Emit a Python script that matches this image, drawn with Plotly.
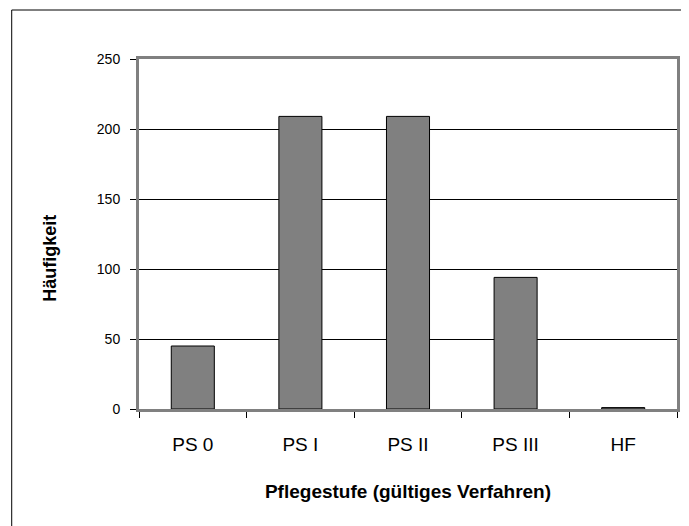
import plotly.graph_objects as go

categories = ["PS 0", "PS I", "PS II", "PS III", "HF"]
counts = [45, 209, 209, 94, 1]
y_ticks = [0, 50, 100, 150, 200, 250]

fig = go.Figure(
    data=[
        go.Bar(
            x=categories,
            y=counts,
            marker=dict(color="#808080", line=dict(color="#000000", width=1)),
            showlegend=False,
        )
    ],
    layout=go.Layout(
        # page body has an 8px margin, so the figure is shrunk to fit
        width=681,
        height=518,
        margin=dict(l=131, r=9, t=51, b=117),
        paper_bgcolor="white",
        plot_bgcolor="white",
        bargap=0.6,
        font=dict(family="Liberation Sans, Arial, sans-serif", color="#000000"),
    ),
)

fig.update_xaxes(
    tickson="boundaries",
    ticks="outside",
    ticklen=6,
    tickcolor="#000000",
    tickfont=dict(size=19),
    ticklabelstandoff=16,
    showline=True,
    linecolor="#808080",
    linewidth=3,
    mirror=True,
    showgrid=False,
    title=dict(text="<b>Pflegestufe (gültiges Verfahren)</b>", font=dict(size=19), standoff=31),
)
fig.update_yaxes(
    range=[0, 250],
    tickvals=y_ticks,
    ticks="outside",
    ticklen=6,
    tickcolor="#000000",
    tickfont=dict(size=14),
    ticklabelstandoff=7,
    showline=True,
    linecolor="#808080",
    linewidth=3,
    mirror=True,
    showgrid=True,
    gridcolor="#000000",
    gridwidth=1,
    zeroline=False,
)

# y title sits a bit below the plot centre in the original
fig.add_annotation(
    text="<b>Häufigkeit</b>", textangle=-90, showarrow=False,
    xref="paper", yref="paper", x=-0.166, y=0.431,
    xanchor="center", yanchor="middle", font=dict(size=18),
)

# outer chart frame (only left and top edges fall inside the picture)
fig.add_shape(
    type="rect", xref="paper", yref="paper",
    x0=-0.2366, x1=1.3, y0=-0.6, y1=1.14,
    line=dict(color="#000000", width=1), fillcolor="rgba(0,0,0,0)", layer="below",
)

fig.write_html("out.html")
